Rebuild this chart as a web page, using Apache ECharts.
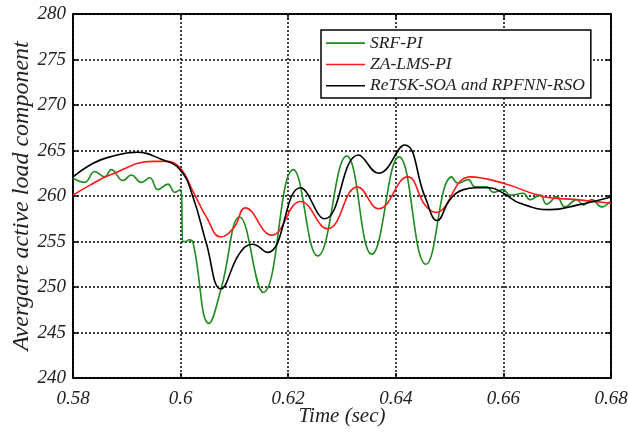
<!DOCTYPE html>
<html>
<head>
<meta charset="utf-8">
<script src="https://cdn.jsdelivr.net/npm/echarts@6/dist/echarts.min.js"></script>
<style>html,body{margin:0;padding:0;background:#fff}#c{width:628px;height:437px}</style>
</head>
<body>
<div id="c"></div>
<script>
const seriesNames = ['SRF-PI', 'ZA-LMS-PI', 'ReTSK-SOA and RPFNN-RSO'];
const xTicks = [0.58, 0.6, 0.62, 0.64, 0.66, 0.68];
const yTicks = [240, 245, 250, 255, 260, 265, 270, 275, 280];

const tSRF = [0.58, 0.58217, 0.58403, 0.58589, 0.58712, 0.58929, 0.59084, 0.59270, 0.59426, 0.59580, 0.59766, 0.59890, 0.59994,
  0.6005, 0.6010, 0.60156, 0.6023, 0.60528, 0.60757, 0.61098, 0.61537, 0.62095, 0.62548, 0.63087, 0.63552, 0.64059, 0.64561, 0.65039,
  0.65162, 0.65348, 0.65472, 0.65690, 0.65813, 0.65999, 0.66123, 0.66370, 0.66494, 0.66680, 0.66805, 0.66991, 0.67145, 0.67362,
  0.67485, 0.67641, 0.67827, 0.67981];
const vSRF = [261.95, 261.5, 262.7, 262.1, 262.9, 261.7, 262.3, 261.5, 262.0, 260.7, 261.3, 260.4, 260.7,
  255.0, 255.0, 255.2, 254.9, 246.0, 249.9, 257.7, 249.4, 262.9, 253.4, 264.4, 253.6, 264.3, 252.5, 262.1,
  261.4, 261.8, 261.0, 261.0, 260.4, 260.7, 260.1, 260.3, 259.6, 260.1, 259.1, 259.9, 258.8, 259.6,
  259.0, 259.6, 258.8, 259.4];

const tZA = [0.58, 0.58316, 0.58686, 0.59487, 0.59724, 0.59989, 0.6023, 0.60478, 0.60747, 0.61, 0.6120, 0.61693, 0.62230, 0.62732,
  0.63290, 0.63680, 0.64220, 0.64543, 0.64734, 0.65379, 0.66, 0.66773, 0.67362, 0.68];
const vZA = [260.1, 261.2, 262.3, 263.8, 263.8, 263.1, 260.5, 257.7, 255.5, 256.6, 258.7, 255.7, 259.4, 256.4,
  261.0, 258.6, 262.1, 259.0, 258.2, 262.1, 261.4, 259.9, 259.6, 259.2];

const tRe = [0.58, 0.58375, 0.58686, 0.59184, 0.59617, 0.59989, 0.6023, 0.60478, 0.60747, 0.61098, 0.61338, 0.61617, 0.62230,
  0.62676, 0.63308, 0.63680, 0.64164, 0.64543, 0.64771, 0.65007, 0.65255, 0.65500, 0.65741, 0.66000, 0.66309, 0.66869, 0.67370, 0.68];
const vRe = [262.1, 263.6, 264.3, 264.8, 264.1, 262.9, 259.9, 254.8, 249.8, 253.7, 254.7, 253.8, 260.9,
  257.5, 264.5, 262.5, 265.6, 259.9, 257.3, 259.6, 260.7, 260.9, 260.9, 260.3, 259.2, 258.5, 259.0, 259.9];

const zip = (t, v) => t.map((x, i) => [x, v[i]]);
const FONT = "'Liberation Serif', 'Times New Roman', serif";
const colors = ['#1f8a1f', '#ff1a1a', '#000000'];
const tickRich = {i: {fontFamily: FONT, fontStyle: 'italic', fontSize: 19, color: '#222'}};

const chart = echarts.init(document.getElementById('c'), null, {renderer: 'canvas'});
const lineStyleBase = {width: 1.6};
chart.setOption({
  animation: false,
  backgroundColor: '#fff',
  textStyle: {fontFamily: FONT, fontStyle: 'italic'},
  grid: {left: 73, right: 17, top: 14, bottom: 59, containLabel: false, outerBoundsMode: 'none',
    show: true, borderColor: '#000', borderWidth: 1.5, backgroundColor: 'transparent'},
  legend: {
    orient: 'vertical', left: 321, top: 30,
    padding: [4, 6, 3, 5], itemGap: 3, itemWidth: 39, itemHeight: 1.6, icon: 'rect',
    backgroundColor: '#fff', borderColor: '#000', borderWidth: 1.5, borderRadius: 0,
    textStyle: {fontFamily: FONT, fontStyle: 'italic', fontSize: 17.5, lineHeight: 18.3, color: '#222'},
    data: seriesNames
  },
  xAxis: [{
    type: 'value', min: 0.58, max: 0.68, interval: 0.02,
    axisLine: {show: true, lineStyle: {color: '#000', width: 1.5}},
    axisTick: {show: true, inside: true, length: 5, lineStyle: {color: '#000', width: 1.5}},
    axisLabel: {fontFamily: FONT, fontStyle: 'italic', fontSize: 19, color: '#222', margin: 11,
      formatter: v => '{i|' + String(+v.toFixed(2)) + '}', rich: tickRich},
    splitLine: {show: true, lineStyle: {color: '#000', type: [2, 2], width: 1.5}},
    name: 'Time (sec)', nameLocation: 'middle', nameGap: 28, nameMoveOverlap: false,
    nameTextStyle: {fontFamily: FONT, fontStyle: 'italic', fontSize: 21, color: '#222'}
  }, {
    type: 'value', position: 'top', min: 0.58, max: 0.68, interval: 0.02,
    axisLine: {show: true, lineStyle: {color: '#000', width: 1.5}},
    axisTick: {show: true, inside: true, length: 5, lineStyle: {color: '#000', width: 1.5}},
    axisLabel: {show: false}, splitLine: {show: false}
  }],
  yAxis: [{
    type: 'value', min: 240, max: 280, interval: 5,
    axisLine: {show: true, lineStyle: {color: '#000', width: 1.5}},
    axisTick: {show: true, inside: true, length: 5, lineStyle: {color: '#000', width: 1.5}},
    axisLabel: {fontFamily: FONT, fontStyle: 'italic', fontSize: 19, color: '#222', margin: 7,
      formatter: v => '{i|' + v + '}', rich: tickRich},
    splitLine: {show: true, lineStyle: {color: '#000', type: [2, 2], width: 1.5}},
    name: 'Avergare active load component', nameLocation: 'middle', nameGap: 39, nameRotate: 90, nameMoveOverlap: false,
    nameTextStyle: {fontFamily: FONT, fontStyle: 'italic', fontSize: 24, color: '#222'}
  }, {
    type: 'value', position: 'right', min: 240, max: 280, interval: 5,
    axisLine: {show: true, lineStyle: {color: '#000', width: 1.5}},
    axisTick: {show: true, inside: true, length: 5, lineStyle: {color: '#000', width: 1.5}},
    axisLabel: {show: false}, splitLine: {show: false}
  }],
  series: [
    {name: seriesNames[0], type: 'line', data: zip(tSRF, vSRF), smooth: 0.45, symbol: 'none',
      color: colors[0], lineStyle: Object.assign({color: colors[0]}, lineStyleBase), z: 3},
    {name: seriesNames[1], type: 'line', data: zip(tZA, vZA), smooth: 0.45, symbol: 'none',
      color: colors[1], lineStyle: Object.assign({color: colors[1]}, lineStyleBase), z: 4},
    {name: seriesNames[2], type: 'line', data: zip(tRe, vRe), smooth: 0.45, symbol: 'none',
      color: colors[2], lineStyle: Object.assign({color: colors[2]}, lineStyleBase), z: 5}
  ]
});
</script>
</body>
</html>
